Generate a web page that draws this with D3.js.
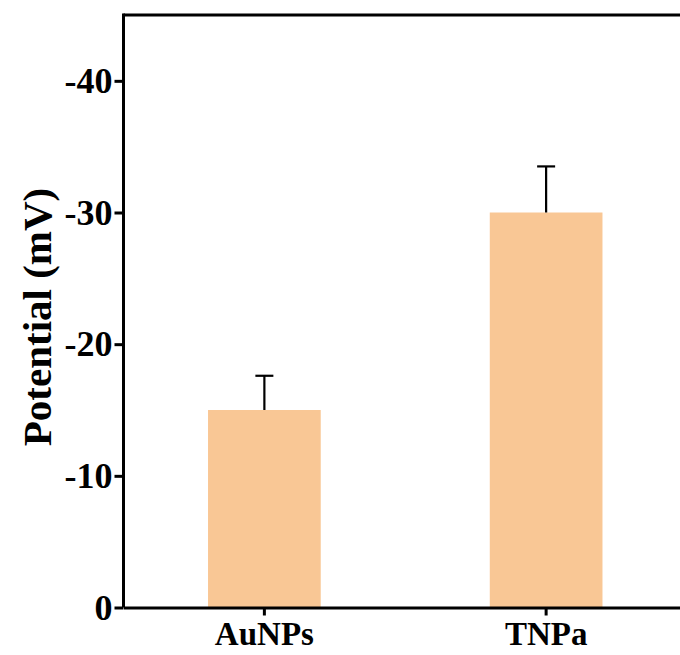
<!DOCTYPE html>
<html>
<head>
<meta charset="utf-8">
<script src="https://cdn.jsdelivr.net/npm/d3@7"></script>
<style>
html,body{margin:0;padding:0;background:#fff;}
svg{display:block;}
</style>
</head>
<body>
<svg id="chart" width="680" height="655"></svg>
<script>
const categories = ["AuNPs", "TNPa"];
const values = [15, 30];
const errors = [2.6, 3.5];
const yTicks = [0, 10, 20, 30, 40];
const yTickLabels = ["0", "-10", "-20", "-30", "-40"];
const yTitle = "Potential (mV)";

(function () {
const svg = d3.select("#chart");
const font = "'Liberation Serif','Times New Roman',serif";
const mLeft = 123.5, mRight = 687, mTop = 15, mBottom = 607.5;

const x = d3.scaleBand().domain(categories).range([mLeft, mRight]).paddingInner(0.6).paddingOuter(0.3);
const y = d3.scaleLinear().domain([0, 45]).range([mBottom, mTop]);

// bars
svg.append("g").selectAll("rect").data(categories).join("rect")
  .attr("x", d => x(d))
  .attr("width", x.bandwidth())
  .attr("y", (d, i) => y(values[i]))
  .attr("height", (d, i) => y(0) - y(values[i]))
  .attr("fill", "#F9C795");

// error bars (upper only)
const eg = svg.append("g").attr("stroke", "#000").attr("stroke-width", 2.2);
categories.forEach((c, i) => {
  const cx = x(c) + x.bandwidth() / 2;
  eg.append("line").attr("x1", cx).attr("x2", cx).attr("y1", y(values[i])).attr("y2", y(values[i] + errors[i]));
  eg.append("line").attr("x1", cx - 9).attr("x2", cx + 9).attr("y1", y(values[i] + errors[i])).attr("y2", y(values[i] + errors[i]));
});

// top border
svg.append("line").attr("x1", mLeft).attr("x2", mRight).attr("y1", mTop).attr("y2", mTop)
  .attr("stroke", "#000").attr("stroke-width", 3);

// y axis
const yAxis = d3.axisLeft(y).tickValues(yTicks).tickFormat((d, i) => yTickLabels[i]).tickSize(9).tickPadding(2);
const gy = svg.append("g").attr("transform", `translate(${mLeft},0)`).call(yAxis);
gy.select(".domain").attr("stroke", "#000").attr("stroke-width", 3).attr("d", `M0,${mBottom}V${mTop - 1.5}`);
gy.selectAll(".tick line").attr("stroke", "#000").attr("stroke-width", 3);
gy.selectAll(".tick text").attr("font-family", font).attr("font-weight", "bold").attr("font-size", 36).attr("fill", "#000");

// x axis
const xAxis = d3.axisBottom(x).tickSize(8).tickPadding(6).tickSizeOuter(0);
const gx = svg.append("g").attr("transform", `translate(0,${mBottom})`).call(xAxis);
gx.select(".domain").attr("stroke", "#000").attr("stroke-width", 3);
gx.selectAll(".tick line").attr("stroke", "#000").attr("stroke-width", 3);
gx.selectAll(".tick text").attr("font-family", font).attr("font-weight", "bold").attr("font-size", 33).attr("fill", "#000");

// y title
svg.append("text")
  .attr("transform", `translate(51,317) rotate(-90)`)
  .attr("text-anchor", "middle")
  .attr("font-family", font).attr("font-weight", "bold").attr("font-size", 41)
  .attr("fill", "#000")
  .text(yTitle);
})();
</script>
</body>
</html>
